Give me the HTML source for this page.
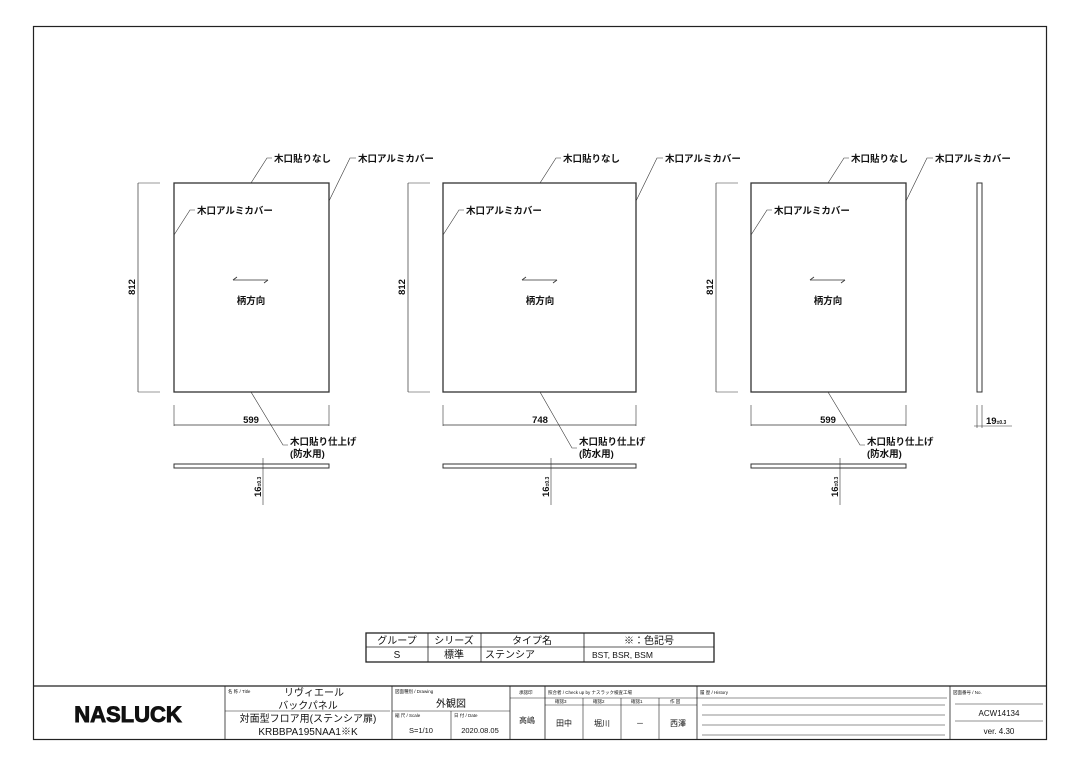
<!DOCTYPE html>
<html><head><meta charset="utf-8"><style>
html,body{margin:0;padding:0;background:#fff}
svg{display:block}
text{font-family:"Liberation Sans","Noto Sans CJK JP",sans-serif;fill:#111}
.b{font-weight:bold}
</style></head><body>
<svg width="1080" height="764" viewBox="0 0 1080 764" xmlns="http://www.w3.org/2000/svg">
<rect x="33.5" y="26.5" width="1013" height="713" fill="none" stroke="#222" stroke-width="1.2"/>

<!-- PANEL 1 -->
<g stroke="#333" fill="none">
<rect x="174" y="183" width="155" height="209" stroke-width="1.3"/>
<line x1="138" y1="183" x2="138" y2="392" stroke-width="0.7"/>
<line x1="138" y1="183" x2="160" y2="183" stroke-width="0.6"/>
<line x1="138" y1="392" x2="160" y2="392" stroke-width="0.6"/>
<line x1="174" y1="405" x2="174" y2="426" stroke-width="0.6"/>
<line x1="329" y1="405" x2="329" y2="426" stroke-width="0.6"/>
<line x1="174" y1="425" x2="329" y2="425" stroke-width="0.7"/>
<rect x="174" y="464" width="155" height="4" stroke-width="1"/>
<line x1="263" y1="458" x2="263" y2="505" stroke-width="0.6"/>
<polyline points="251,183 267,158 272,158" stroke-width="0.6"/>
<polyline points="329,201 350,158 356,158" stroke-width="0.6"/>
<polyline points="174,235 190,210 195,210" stroke-width="0.6"/>
<polyline points="251,392 283,445 288,445" stroke-width="0.6"/>
<line x1="233" y1="280" x2="268" y2="280" stroke-width="0.8"/>
<line x1="233" y1="280" x2="237" y2="277" stroke-width="0.8"/>
<line x1="268" y1="280" x2="264" y2="283" stroke-width="0.8"/>
</g>
<g font-size="9.5" class="b">
<text x="274" y="162" class="b">木口貼りなし</text>
<text x="358" y="162" class="b">木口アルミカバー</text>
<text x="197" y="214" class="b">木口アルミカバー</text>
<text x="251" y="304" text-anchor="middle" class="b">柄方向</text>
<text x="290" y="445" class="b">木口貼り仕上げ</text>
<text x="290" y="457" class="b">(防水用)</text>
<text x="251" y="423" text-anchor="middle" class="b">599</text>
<text transform="translate(135,287) rotate(-90)" text-anchor="middle" class="b">812</text>
<text transform="translate(261,497) rotate(-90)" class="b">16<tspan font-size="5">±0.3</tspan></text>
</g>

<!-- PANEL 2 -->
<g stroke="#333" fill="none">
<rect x="443" y="183" width="193" height="209" stroke-width="1.3"/>
<line x1="408" y1="183" x2="408" y2="392" stroke-width="0.7"/>
<line x1="408" y1="183" x2="430" y2="183" stroke-width="0.6"/>
<line x1="408" y1="392" x2="430" y2="392" stroke-width="0.6"/>
<line x1="443" y1="405" x2="443" y2="426" stroke-width="0.6"/>
<line x1="636" y1="405" x2="636" y2="426" stroke-width="0.6"/>
<line x1="443" y1="425" x2="636" y2="425" stroke-width="0.7"/>
<rect x="443" y="464" width="193" height="4" stroke-width="1"/>
<line x1="551" y1="458" x2="551" y2="505" stroke-width="0.6"/>
<polyline points="540,183 556,158 561,158" stroke-width="0.6"/>
<polyline points="636,201 657,158 663,158" stroke-width="0.6"/>
<polyline points="443,235 459,210 464,210" stroke-width="0.6"/>
<polyline points="540,392 572,448 577,448" stroke-width="0.6"/>
<line x1="522" y1="280" x2="557" y2="280" stroke-width="0.8"/>
<line x1="522" y1="280" x2="526" y2="277" stroke-width="0.8"/>
<line x1="557" y1="280" x2="553" y2="283" stroke-width="0.8"/>
</g>
<g font-size="9.5">
<text x="563" y="162" class="b">木口貼りなし</text>
<text x="665" y="162" class="b">木口アルミカバー</text>
<text x="466" y="214" class="b">木口アルミカバー</text>
<text x="540" y="304" text-anchor="middle" class="b">柄方向</text>
<text x="579" y="445" class="b">木口貼り仕上げ</text>
<text x="579" y="457" class="b">(防水用)</text>
<text x="540" y="423" text-anchor="middle" class="b">748</text>
<text transform="translate(405,287) rotate(-90)" text-anchor="middle" class="b">812</text>
<text transform="translate(549,497) rotate(-90)" class="b">16<tspan font-size="5">±0.3</tspan></text>
</g>

<!-- PANEL 3 -->
<g stroke="#333" fill="none">
<rect x="751" y="183" width="155" height="209" stroke-width="1.3"/>
<line x1="716" y1="183" x2="716" y2="392" stroke-width="0.7"/>
<line x1="716" y1="183" x2="738" y2="183" stroke-width="0.6"/>
<line x1="716" y1="392" x2="738" y2="392" stroke-width="0.6"/>
<line x1="751" y1="405" x2="751" y2="426" stroke-width="0.6"/>
<line x1="906" y1="405" x2="906" y2="426" stroke-width="0.6"/>
<line x1="751" y1="425" x2="906" y2="425" stroke-width="0.7"/>
<rect x="751" y="464" width="155" height="4" stroke-width="1"/>
<line x1="840" y1="458" x2="840" y2="505" stroke-width="0.6"/>
<polyline points="828,183 844,158 849,158" stroke-width="0.6"/>
<polyline points="906,201 927,158 933,158" stroke-width="0.6"/>
<polyline points="751,235 767,210 772,210" stroke-width="0.6"/>
<polyline points="828,392 860,445 865,445" stroke-width="0.6"/>
<line x1="810" y1="280" x2="845" y2="280" stroke-width="0.8"/>
<line x1="810" y1="280" x2="814" y2="277" stroke-width="0.8"/>
<line x1="845" y1="280" x2="841" y2="283" stroke-width="0.8"/>
<!-- side view -->
<rect x="977" y="183" width="5" height="209" stroke-width="1"/>
<line x1="977" y1="405" x2="977" y2="428" stroke-width="0.6"/>
<line x1="982" y1="405" x2="982" y2="428" stroke-width="0.6"/>
<line x1="974" y1="426" x2="1012" y2="426" stroke-width="0.6"/>
</g>
<g font-size="9.5">
<text x="851" y="162" class="b">木口貼りなし</text>
<text x="935" y="162" class="b">木口アルミカバー</text>
<text x="774" y="214" class="b">木口アルミカバー</text>
<text x="828" y="304" text-anchor="middle" class="b">柄方向</text>
<text x="867" y="445" class="b">木口貼り仕上げ</text>
<text x="867" y="457" class="b">(防水用)</text>
<text x="828" y="423" text-anchor="middle" class="b">599</text>
<text transform="translate(713,287) rotate(-90)" text-anchor="middle" class="b">812</text>
<text transform="translate(838,497) rotate(-90)" class="b">16<tspan font-size="5">±0.3</tspan></text>
<text x="986" y="424" class="b">19<tspan font-size="5">±0.3</tspan></text>
</g>

<!-- TABLE -->
<g stroke="#222" fill="none">
<rect x="366" y="633" width="348" height="29" stroke-width="1.3"/>
<line x1="366" y1="647" x2="714" y2="647" stroke-width="0.8"/>
<line x1="428" y1="633" x2="428" y2="662" stroke-width="0.8"/>
<line x1="481" y1="633" x2="481" y2="662" stroke-width="0.8"/>
<line x1="584" y1="633" x2="584" y2="662" stroke-width="0.8"/>
</g>
<g font-size="10">
<text x="397" y="644" text-anchor="middle">グループ</text>
<text x="454" y="644" text-anchor="middle">シリーズ</text>
<text x="532" y="644" text-anchor="middle">タイプ名</text>
<text x="649" y="644" text-anchor="middle">※：色記号</text>
<text x="397" y="658" text-anchor="middle">S</text>
<text x="454" y="658" text-anchor="middle">標準</text>
<text x="485" y="658">ステンシア</text>
<text x="592" y="658" font-size="8.5">BST, BSR, BSM</text>
</g>

<!-- TITLE BLOCK -->
<g stroke="#222" fill="none">
<line x1="33" y1="686" x2="1047" y2="686" stroke-width="1.2"/>
<line x1="225" y1="686" x2="225" y2="740" stroke-width="0.8"/>
<line x1="392" y1="686" x2="392" y2="740" stroke-width="0.8"/>
<line x1="510" y1="686" x2="510" y2="740" stroke-width="0.8"/>
<line x1="545" y1="686" x2="545" y2="740" stroke-width="0.8"/>
<line x1="697" y1="686" x2="697" y2="740" stroke-width="0.8"/>
<line x1="950" y1="686" x2="950" y2="740" stroke-width="0.8"/>
<line x1="225" y1="711" x2="390" y2="711" stroke-width="0.6"/>
<line x1="392" y1="711" x2="510" y2="711" stroke-width="0.6"/>
<line x1="451" y1="711" x2="451" y2="740" stroke-width="0.6"/>
<line x1="510" y1="698" x2="697" y2="698" stroke-width="0.6"/>
<line x1="545" y1="705" x2="697" y2="705" stroke-width="0.6"/>
<line x1="583" y1="698" x2="583" y2="740" stroke-width="0.6"/>
<line x1="621" y1="698" x2="621" y2="740" stroke-width="0.6"/>
<line x1="659" y1="698" x2="659" y2="740" stroke-width="0.6"/>
<line x1="697" y1="698" x2="947" y2="698" stroke-width="0.5"/>
<line x1="702" y1="705" x2="945" y2="705" stroke-width="0.5"/>
<line x1="702" y1="715" x2="945" y2="715" stroke-width="0.5"/>
<line x1="702" y1="725" x2="945" y2="725" stroke-width="0.5"/>
<line x1="702" y1="735" x2="945" y2="735" stroke-width="0.5"/>
<line x1="955" y1="704" x2="1043" y2="704" stroke-width="0.6"/>
<line x1="955" y1="721" x2="1043" y2="721" stroke-width="0.6"/>
</g>
<text x="128" y="722" text-anchor="middle" font-size="22" font-weight="900" style="font-family:'Liberation Sans',sans-serif;stroke:#111;stroke-width:0.9">NASLUCK</text>
<g font-size="4.5" fill="#333">
<text x="228" y="693">名 称 / Title</text>
<text x="395" y="693">図面種別 / Drawing</text>
<text x="395" y="717">縮 尺 / Scale</text>
<text x="454" y="717">日 付 / Date</text>
<text x="519" y="694">承認印</text>
<text x="548" y="694">照合者 / Check up by ナスラック検査工場</text>
<text x="555" y="703">確認3</text>
<text x="593" y="703">確認2</text>
<text x="631" y="703">確認1</text>
<text x="670" y="703">作 図</text>
<text x="700" y="694">履 歴 / History</text>
<text x="953" y="694">図面番号 / No.</text>
</g>
<g font-size="10">
<text x="314" y="696" text-anchor="middle">リヴィエール</text>
<text x="308" y="709" text-anchor="middle">バックパネル</text>
<text x="308" y="722" text-anchor="middle">対面型フロア用(ステンシア扉)</text>
<text x="308" y="735" text-anchor="middle">KRBBPA195NAA1※K</text>
<text x="451" y="707" text-anchor="middle">外観図</text>
<text x="421" y="733" text-anchor="middle" font-size="7.5">S=1/10</text>
<text x="480" y="733" text-anchor="middle" font-size="7.5">2020.08.05</text>
<text x="527" y="723" text-anchor="middle" font-size="8">高嶋</text>
<text x="564" y="726" text-anchor="middle" font-size="8">田中</text>
<text x="602" y="726" text-anchor="middle" font-size="8">堀川</text>
<text x="640" y="726" text-anchor="middle" font-size="8">－</text>
<text x="678" y="726" text-anchor="middle" font-size="8">西澤</text>
<text x="999" y="716" text-anchor="middle" font-size="8">ACW14134</text>
<text x="999" y="734" text-anchor="middle" font-size="8">ver. 4.30</text>
</g>
</svg>
</body></html>
